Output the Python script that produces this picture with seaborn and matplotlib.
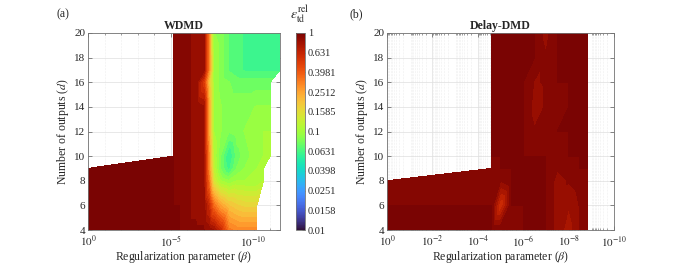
import numpy as np
import matplotlib
matplotlib.use("Agg")
import matplotlib.pyplot as plt
import matplotlib.tri as mtri
import seaborn as sns
from matplotlib.colors import Normalize
from matplotlib.cm import ScalarMappable

nan = np.nan

# ---- panel (a): WDMD, log10(beta) columns, number of outputs rows ----
beta_exp_a = [0, -5.15, -5.5, -6, -6.5, -7, -7.3, -7.6, -8, -8.5, -9, -9.5, -10.2, -10.6, -11.0, -11.6]
d_a = [4, 6, 8, 9, 10, 12, 14, 16, 17, 20]
err_a = [
    [1.0, 1.0, 1.0, 0.9, 0.9, 0.9, 0.85, 0.8, 0.6, 0.33, 0.3, 0.3, 0.3, nan, nan, nan],
    [1.0, 1.0, 1.0, 0.9, 0.88, 0.85, 0.6, 0.35, 0.25, 0.2, 0.18, 0.17, 0.17, nan, nan, nan],
    [1.0, 1.0, 0.95, 0.9, 0.88, 0.8, 0.35, 0.14, 0.1, 0.09, 0.1, 0.1, 0.1, 0.11, nan, nan],
    [1.0, 1.0, 0.95, 0.9, 0.88, 0.8, 0.3, 0.12, 0.08, 0.06, 0.08, 0.09, 0.1, 0.1, nan, nan],
    [nan, 1.0, 0.95, 0.9, 0.88, 0.8, 0.3, 0.11, 0.08, 0.055, 0.075, 0.085, 0.095, 0.1, 0.1, nan],
    [nan, 1.0, 0.95, 0.9, 0.88, 0.8, 0.25, 0.1, 0.09, 0.08, 0.085, 0.09, 0.1, 0.1, 0.1, nan],
    [nan, 1.0, 0.95, 0.9, 0.88, 0.8, 0.25, 0.1, 0.09, 0.085, 0.085, 0.085, 0.09, 0.09, 0.09, nan],
    [nan, 1.0, 0.95, 0.9, 0.88, 0.5, 0.2, 0.1, 0.085, 0.08, 0.075, 0.075, 0.075, 0.075, 0.075, nan],
    [nan, 1.0, 0.95, 0.9, 0.88, 0.85, 0.3, 0.1, 0.085, 0.07, 0.065, 0.062, 0.062, 0.062, 0.062, 0.062],
    [nan, 1.0, 0.95, 0.9, 0.88, 0.85, 0.3, 0.09, 0.085, 0.07, 0.065, 0.062, 0.062, 0.062, 0.062, 0.062],
]

# ---- panel (b): Delay-DMD ----
beta_exp_b = [0, -4.6, -5, -5.5, -6, -6.5, -7, -7.5, -8, -8.5, -8.85]
d_b = [4, 6, 8, 9, 10, 12, 14, 16, 18, 20]
err_b = [
    [1.0, 1.0, 1.0, 0.95, 1.0, 1.0, 1.0, 0.85, 0.75, 0.9, 1.0],
    [1.0, 1.0, 0.55, 1.0, 1.0, 1.0, 1.0, 0.85, 0.8, 0.9, 1.0],
    [1.0, 0.92, 0.9, 1.0, 1.0, 1.0, 1.0, 0.85, 0.9, 0.95, 1.0],
    [nan, 0.95, 1.0, 1.0, 1.0, 1.0, 1.0, 0.9, 0.95, 1.0, 1.0],
    [nan, 1.0, 1.0, 1.0, 1.0, 1.0, 1.0, 0.9, 1.0, 1.0, 1.0],
    [nan, 1.0, 1.0, 1.0, 1.0, 0.9, 0.9, 1.0, 1.0, 1.0, 1.0],
    [nan, 1.0, 1.0, 1.0, 1.0, 0.85, 0.9, 0.9, 1.0, 1.0, 1.0],
    [nan, 1.0, 1.0, 1.0, 1.0, 0.88, 0.9, 1.0, 1.0, 1.0, 1.0],
    [nan, 1.0, 1.0, 1.0, 1.0, 1.0, 0.9, 1.0, 1.0, 1.0, 1.0],
    [nan, 1.0, 1.0, 1.0, 1.0, 1.0, 0.85, 1.0, 1.0, 1.0, 1.0],
]

cbar_ticks = [-2, -1.8, -1.6, -1.4, -1.2, -1, -0.8, -0.6, -0.4, -0.2, 0]
cbar_labels = ["0.01", "0.0158", "0.0251", "0.0398", "0.0631", "0.1",
               "0.1585", "0.2512", "0.3981", "0.631", "1"]

sns.set_theme(style="ticks")
plt.rcParams["font.family"] = ["Liberation Serif", "DejaVu Serif"]
plt.rcParams["mathtext.fontset"] = "stix"
cmap = sns.color_palette("turbo", as_cmap=True)


def make_tri(xs, ds, err):
    X, Y = np.meshgrid(xs, ds)
    z = np.log10(np.array(err, float)).ravel()
    nx, nd = len(xs), len(ds)
    tris = []
    for j in range(nd - 1):
        for i in range(nx - 1):
            a = j * nx + i
            b = a + 1
            c = (j + 1) * nx + i + 1
            d = (j + 1) * nx + i
            tris += [[a, b, c], [a, c, d]]
    tri = mtri.Triangulation(X.ravel(), Y.ravel(), np.array(tris))
    tri.set_mask(np.isnan(z)[tri.triangles].any(axis=1))
    return tri, np.where(np.isnan(z), -1, z)


def style_axes(ax, xmin, major, major_labels, minor):
    ax.set_xlim(0, xmin)
    ax.set_ylim(4, 20)
    ax.set_xticks(major)
    ax.set_xticklabels(major_labels)
    ax.set_xticks(minor, minor=True)
    ax.set_yticks(range(4, 21, 2))
    ax.set_axisbelow(True)
    ax.grid(True, which="major", color="0.87", lw=0.5)
    ax.grid(True, which="minor", axis="x", color="0.88", lw=0.4, ls=":")
    ax.tick_params(which="both", direction="in", top=True, right=True,
                   labelsize=8, color="0.35", pad=2)
    ax.tick_params(axis="x", which="major", pad=3)
    ax.tick_params(which="major", length=3, width=0.5)
    ax.tick_params(which="minor", length=1.5, width=0.4)
    for s in ax.spines.values():
        s.set_color("0.45")
        s.set_linewidth(0.6)
    ax.set_xlabel(r"Regularization parameter ($\beta$)", fontsize=8.5, labelpad=0)
    ax.set_ylabel(r"Number of outputs ($d$)", fontsize=8.5, labelpad=2)


levels = np.linspace(-2, 0, 41)
W, H = 679, 264
fig = plt.figure(figsize=(6.79, 2.64), dpi=100)

ax1 = fig.add_axes([88 / W, 1 - 230 / H, 192 / W, 197 / H])
tri, z = make_tri(beta_exp_a, d_a, err_a)
ax1.tricontourf(tri, z, levels=levels, cmap=cmap, vmin=-2, vmax=0, extend="both")
style_axes(ax1, -11.6, [0, -5, -10], [r"$10^{0}$", r"$10^{-5}$", r"$10^{-10}$"],
           [k for k in range(-1, -12, -1) if k % 5 != 0])
ax1.set_title("WDMD", fontsize=8.5, fontweight="bold", pad=3)

ax2 = fig.add_axes([387 / W, 1 - 230 / H, 227 / W, 197 / H])
tri, z = make_tri(beta_exp_b, d_b, err_b)
ax2.tricontourf(tri, z, levels=levels, cmap=cmap, vmin=-2, vmax=0, extend="both")
minor_b = [k + np.log10(m) for k in range(-10, 0) for m in range(2, 10)]
style_axes(ax2, -10, [0, -2, -4, -6, -8, -10],
           [r"$10^{0}$", r"$10^{-2}$", r"$10^{-4}$", r"$10^{-6}$", r"$10^{-8}$", r"$10^{-10}$"],
           minor_b)
ax2.set_title("Delay-DMD", fontsize=8.5, fontweight="bold", pad=3)

cax = fig.add_axes([296 / W, 1 - 230 / H, 9 / W, 197 / H])
cb = fig.colorbar(ScalarMappable(norm=Normalize(-2, 0), cmap=cmap), cax=cax)
cb.set_ticks(cbar_ticks)
cb.set_ticklabels(cbar_labels)
cb.ax.tick_params(labelsize=7.5, direction="in", length=2, width=0.5, color="0.35", pad=2)
cb.outline.set_edgecolor("0.45")
cb.outline.set_linewidth(0.6)
fig.text(300 / W, 1 - 14 / H, r"$\epsilon_{\rm td}^{\rm rel}$", fontsize=10,
         ha="center", va="center")

fig.text(63 / W, 1 - 14 / H, "(a)", fontsize=8.5, ha="center", va="center")
fig.text(356 / W, 1 - 14 / H, "(b)", fontsize=8.5, ha="center", va="center")

fig.savefig("out.png", dpi=100)
